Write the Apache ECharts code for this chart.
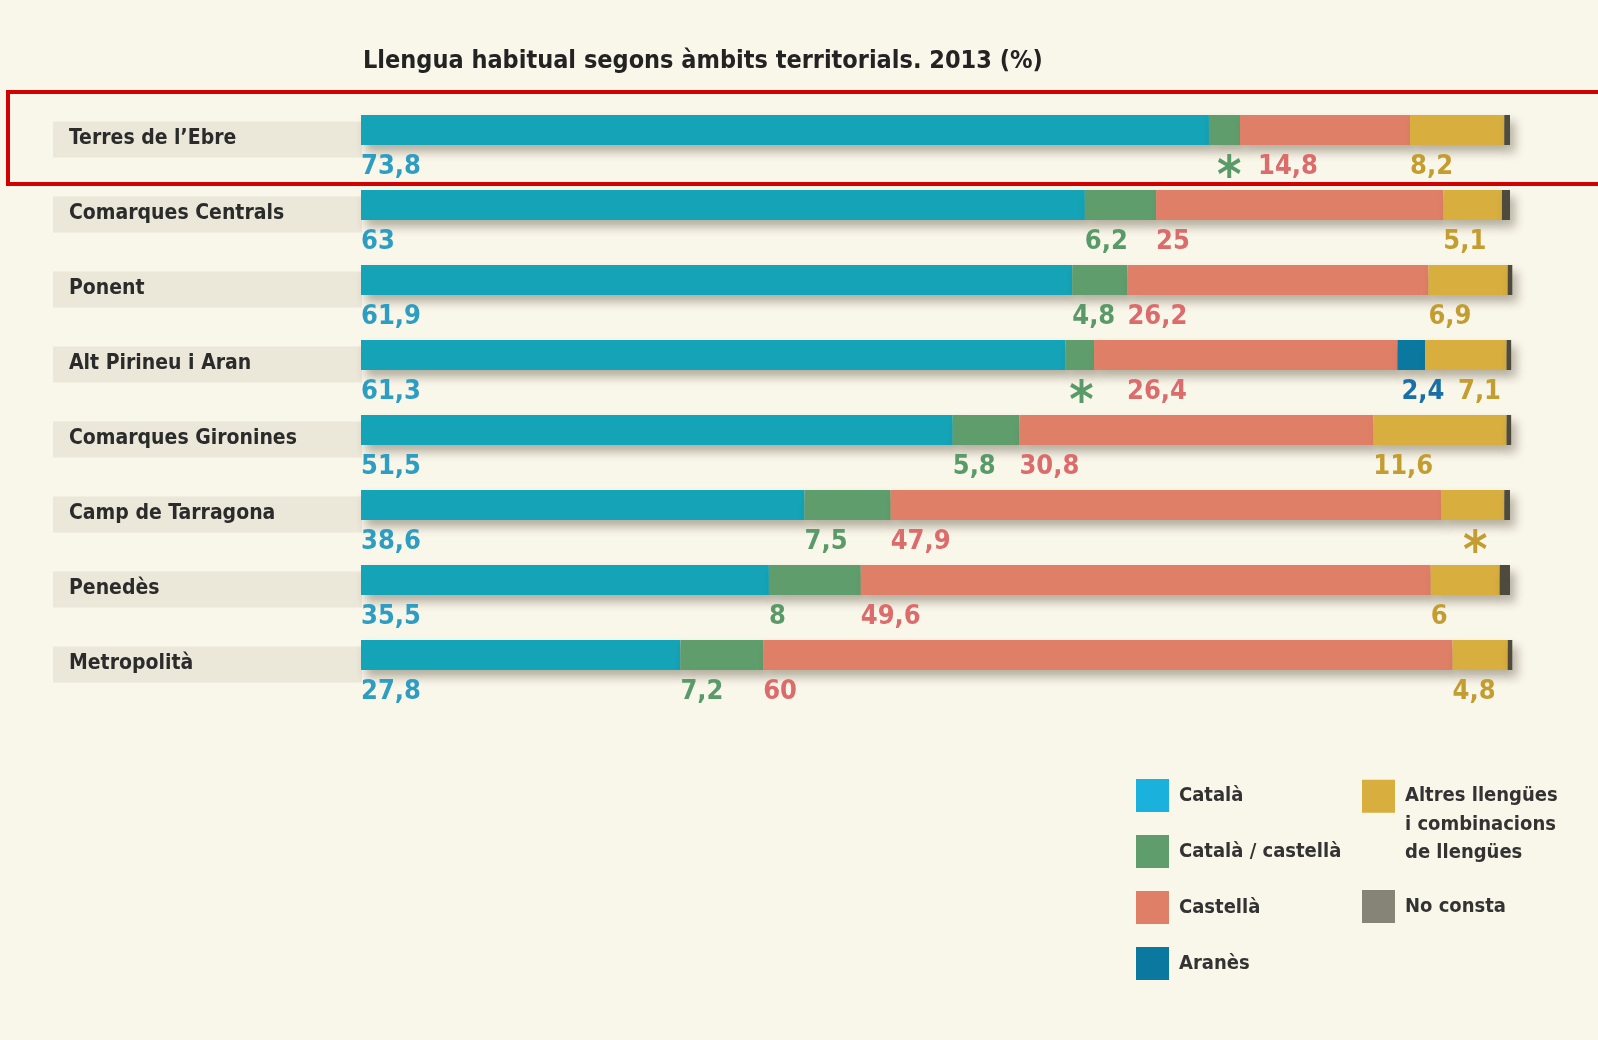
<!DOCTYPE html>
<html>
<head>
<meta charset="utf-8">
<title>Llengua habitual segons àmbits territorials</title>
<script src="https://cdn.jsdelivr.net/npm/echarts@6/dist/echarts.min.js"></script>
<style>
  html, body { margin: 0; padding: 0; background: #f9f6ea; }
  #box { width: 1598px; height: 1040px; }
</style>
</head>
<body>
<div id="box"></div>
<script>
  // dades (%)
  const categories = ['Terres de l\u2019Ebre', 'Comarques Centrals', 'Ponent', 'Alt Pirineu i Aran',
    'Comarques Gironines', 'Camp de Tarragona', 'Penedès', 'Metropolità']
  const catala = [73.8, 63, 61.9, 61.3, 51.5, 38.6, 35.5, 27.8]
  const catalaCastella = [2.7, 6.2, 4.8, 2.5, 5.8, 7.5, 8, 7.2]
  const castella = [14.8, 25, 26.2, 26.4, 30.8, 47.9, 49.6, 60]
  const aranes = [0, 0, 0, 2.4, 0, 0, 0, 0]
  const altres = [8.2, 5.1, 6.9, 7.1, 11.6, 5.5, 6, 4.8]
  const noConsta = [0.5, 0.7, 0.4, 0.4, 0.4, 0.5, 0.9, 0.4]
  // cells printed as an asterisk instead of a number  [series, row]
  const starred = [[1, 0], [1, 3], [4, 5]]

  const FONT = '"Liberation Sans Narrow", "DejaVu Sans Condensed", "Noto Sans", sans-serif'

  const seriesDefs = [
    { name: 'Català', values: catala, color: '#14a3b7', text: '#2e9dc2' },
    { name: 'Català / castellà', values: catalaCastella, color: '#5f9e6c', text: '#5a9a68' },
    { name: 'Castellà', values: castella, color: '#e07f67', text: '#dc6b6b' },
    { name: 'Aranès', values: aranes, color: '#0b78a0', text: '#1a6fa8' },
    { name: 'Altres llengües i combinacions de llengües', values: altres, color: '#d8ae3f', text: '#c49d30' },
    { name: 'No consta', values: noConsta, color: '#4e4b3d', text: '#4e4b3d' }
  ]

  // extra horizontal shift of a few value labels, so they don't collide
  const labelShift = { '1,0': 8, '2,0': 18, '1,3': 4, '2,3': 33, '3,3': 4, '4,3': 33, '4,5': 22 }

  function isStar(s, r) {
    return starred.some(p => p[0] === s && p[1] === r)
  }

  const series = seriesDefs.map((def, s) => ({
    name: def.name,
    type: 'bar',
    stack: 'total',
    barWidth: 30,
    clip: false,
    color: def.color,
    emphasis: { disabled: true },
    itemStyle: {
      color: def.color,
      shadowBlur: 10,
      shadowColor: 'rgba(70,60,40,0.38)',
      shadowOffsetX: 5,
      shadowOffsetY: 7
    },
    data: def.values.map((v, r) => {
      const star = isStar(s, r)
      const dx = labelShift[s + ',' + r] || 0
      return {
        value: v,
        label: {
          show: s < 5 && v > 1,
          position: [dx, star ? 48 : 38],
          align: 'left',
          verticalAlign: 'top',
          fontFamily: FONT,
          fontWeight: 'bold',
          fontSize: 27,
          lineHeight: 28,
          color: def.text,
          formatter: star ? '{s|*}' : String(v).replace('.', ','),
          rich: {
            s: { fontSize: 52, lineHeight: 30, fontWeight: 'bold', color: def.text, fontFamily: FONT }
          }
        }
      }
    })
  }))

  const legendText = { fontFamily: FONT, fontSize: 20, fontWeight: 'bold', color: '#333', padding: [0, 0, 0, 5] }

  let myChart = echarts.init(document.getElementById('box'))
  let option = {
    backgroundColor: '#f9f6ea',
    animation: false,
    title: {
      text: 'Llengua habitual segons àmbits territorials. 2013 (%)',
      left: 363,
      top: 49,
      padding: 0,
      textStyle: { fontFamily: FONT, fontSize: 25, fontWeight: 'bold', color: '#232323' }
    },
    grid: { left: 361, right: 88, top: 92.5, height: 600 },
    xAxis: { type: 'value', min: 0, max: 100, show: false },
    yAxis: {
      type: 'category',
      data: categories,
      inverse: true,
      axisLine: { show: false },
      axisTick: { show: false },
      axisLabel: {
        interval: 0,
        align: 'left',
        margin: 308,
        padding: [19, 0, 0, 0],
        formatter: v => '{b|' + v + '}',
        rich: {
          b: {
            backgroundColor: '#ebe7d9',
            width: 293,
            padding: [7, 0, 8, 16],
            lineHeight: 20,
            fontSize: 21,
            fontWeight: 'bold',
            fontFamily: FONT,
            color: '#2b2b2b'
          }
        }
      }
    },
    legend: [
      {
        orient: 'vertical',
        left: 1136,
        top: 779,
        padding: 0,
        itemWidth: 33,
        itemHeight: 33,
        itemGap: 23,
        icon: 'rect',
        selectedMode: false,
        textStyle: legendText,
        data: [{ name: 'Català', itemStyle: { color: '#1ab2dd' } }, 'Català / castellà', 'Castellà', 'Aranès']
      },
      {
        orient: 'vertical',
        left: 1362,
        top: 725,
        padding: 0,
        itemWidth: 33,
        itemHeight: 33,
        icon: 'rect',
        selectedMode: false,
        // two blank lines on top so the first text line sits beside the swatch
        formatter: () => ' \n \nAltres llengües\ni combinacions\nde llengües',
        textStyle: Object.assign({}, legendText, { lineHeight: 28.5 }),
        data: ['Altres llengües i combinacions de llengües']
      },
      {
        orient: 'vertical',
        left: 1362,
        top: 890,
        padding: 0,
        itemWidth: 33,
        itemHeight: 33,
        icon: 'rect',
        selectedMode: false,
        textStyle: legendText,
        data: [{ name: 'No consta', itemStyle: { color: '#858477' } }]
      }
    ],
    graphic: [
      {
        type: 'rect',
        shape: { x: 8, y: 92, width: 1620, height: 92 },
        style: { fill: null, stroke: '#d20000', lineWidth: 4 },
        z: 100
      }
    ],
    series: series
  }
  myChart.setOption(option)
</script>
</body>
</html>
